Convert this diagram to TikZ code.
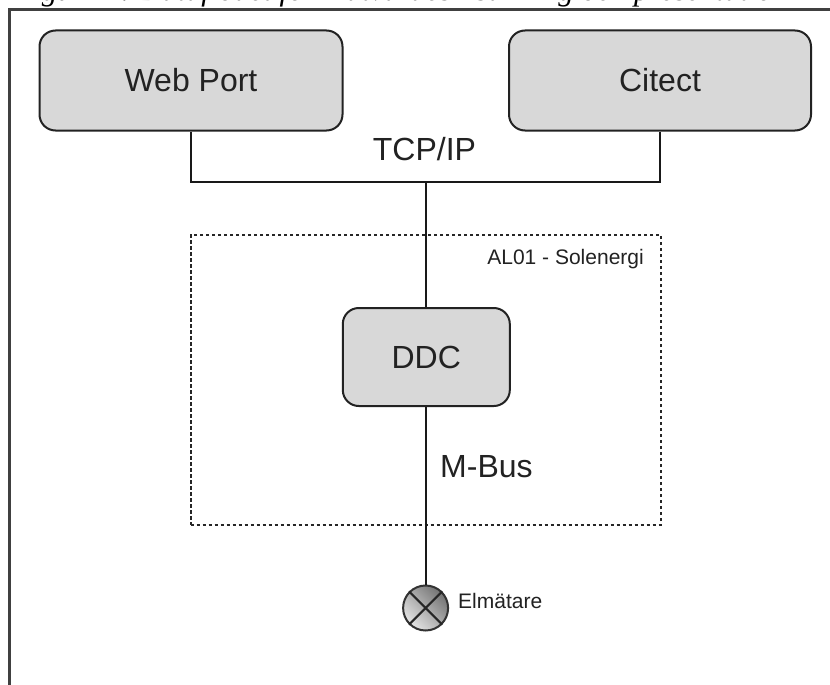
\documentclass[tikz,border=0pt]{standalone}
\usepackage{fontspec}
\setmainfont{Liberation Sans}
\newfontfamily\capfont{Liberation Serif}
\definecolor{boxfill}{HTML}{D8D8D8}
\definecolor{inkc}{HTML}{222222}
\tikzset{
  devbox/.style={draw=inkc,line width=2pt,fill=boxfill,rounded corners=16pt,inner sep=0pt,text=inkc,font=\fontsize{32}{32}\selectfont},
  wire/.style={draw=black!90,line width=2pt},
  biglabel/.style={text=inkc,font=\fontsize{32}{32}\selectfont,inner sep=0pt},
  smalllabel/.style={text=inkc,font=\fontsize{21}{21}\selectfont,inner sep=0pt},
  framebar/.style={draw=black!75,line width=2.2pt},
}
\begin{document}
\begin{tikzpicture}[x=1pt,y=-1pt]
\useasboundingbox (0,0) rectangle (830,685);
\fill[white] (0,0) rectangle (830,685);
% clipped caption
\begin{scope}
\clip (0,0) rectangle (830,8);
\node[anchor=base west,inner sep=0pt,font=\capfont\itshape\fontsize{31}{31}\selectfont] (cap) at (14,1) {Figur 11. Dataflödet för mätvärdesinsamling och presentation};
\end{scope}
% frame
\coordinate (frameTR) at (830,9.5);
\coordinate (frameTL) at (9.5,9.5);
\coordinate (frameBL) at (9.5,685);
\draw[framebar] (frameTR) -- (frameTL) -- (frameBL);
% dashed group
\node[draw=black!85,line width=2pt,dash pattern=on 3.5pt off 2.5pt,minimum width=470pt,minimum height=290.5pt,inner sep=0pt] (group) at (425.7,379.9) {};
\node[smalllabel,anchor=base east] (grouplabel) at (644,264) {AL01 - Solenergi};
% bus
\coordinate (bus) at (426.3,182);
% boxes
\node[devbox,minimum width=303pt,minimum height=100pt] (web) at (191,80.5) {Web Port};
\node[devbox,minimum width=302pt,minimum height=100pt] (citect) at (660,80.5) {Citect};
\node[devbox,minimum width=167pt,minimum height=98pt] (ddc) at (426.3,357) {DDC};
\node[biglabel] (tcp) at (424.5,149) {TCP/IP};
\node[biglabel,anchor=base west] (mbus) at (440,477) {M-Bus};
% meter
\node[circle,draw=black!80,line width=2pt,minimum size=45pt,inner sep=0pt,shading=axis,left color=black!55,right color=black!10,shading angle=-45] (meter) at (425.6,608) {};
\draw[black!85,line width=2pt] (meter.45) -- (meter.225) (meter.135) -- (meter.315);
\node[smalllabel,anchor=base west] (meterlabel) at (458,608) {Elmätare};
% connectors
\draw[wire] (web.south) |- (bus) -| (citect.south);
\draw[wire] (bus) -- (ddc.north);
\draw[wire] (ddc.south) -- (ddc.south |- meter.north);
\end{tikzpicture}
\end{document}
